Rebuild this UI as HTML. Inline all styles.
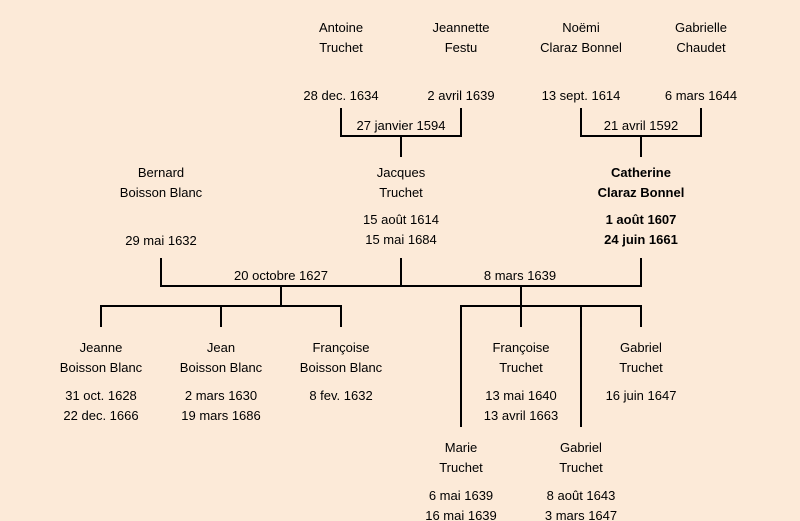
<!DOCTYPE html>
<html><head><meta charset="utf-8"><style>
body{margin:0;background:#fcead8;}
#c{position:relative;width:800px;height:521px;overflow:hidden;background:#fcead8;font-family:"Liberation Sans","DejaVu Sans",sans-serif;font-size:13px;color:#000;}
.t{position:absolute;width:200px;margin-left:-100px;margin-top:1px;text-align:center;line-height:20px;white-space:nowrap;}
.b{font-weight:bold;}
.l{position:absolute;background:#000;}
</style></head><body><div id="c">
<div class="l" style="left:340px;top:108px;width:2px;height:29px"></div>
<div class="l" style="left:460px;top:108px;width:2px;height:29px"></div>
<div class="l" style="left:340px;top:135px;width:122px;height:2px"></div>
<div class="l" style="left:400px;top:135px;width:2px;height:22px"></div>
<div class="l" style="left:580px;top:108px;width:2px;height:29px"></div>
<div class="l" style="left:700px;top:108px;width:2px;height:29px"></div>
<div class="l" style="left:580px;top:135px;width:122px;height:2px"></div>
<div class="l" style="left:640px;top:135px;width:2px;height:22px"></div>

<div class="l" style="left:160px;top:258px;width:2px;height:29px"></div>
<div class="l" style="left:400px;top:258px;width:2px;height:29px"></div>
<div class="l" style="left:640px;top:258px;width:2px;height:29px"></div>
<div class="l" style="left:160px;top:285px;width:482px;height:2px"></div>

<div class="l" style="left:280px;top:285px;width:2px;height:22px"></div>
<div class="l" style="left:100px;top:305px;width:242px;height:2px"></div>
<div class="l" style="left:100px;top:305px;width:2px;height:22px"></div>
<div class="l" style="left:220px;top:305px;width:2px;height:22px"></div>
<div class="l" style="left:340px;top:305px;width:2px;height:22px"></div>

<div class="l" style="left:520px;top:285px;width:2px;height:22px"></div>
<div class="l" style="left:460px;top:305px;width:182px;height:2px"></div>
<div class="l" style="left:520px;top:305px;width:2px;height:22px"></div>
<div class="l" style="left:640px;top:305px;width:2px;height:22px"></div>
<div class="l" style="left:460px;top:305px;width:2px;height:122px"></div>
<div class="l" style="left:580px;top:305px;width:2px;height:122px"></div>

<div class="t" style="left:341px;top:17px">Antoine<br>Truchet</div>
<div class="t" style="left:341px;top:85px">28 dec. 1634</div>
<div class="t" style="left:461px;top:17px">Jeannette<br>Festu</div>
<div class="t" style="left:461px;top:85px">2 avril 1639</div>
<div class="t" style="left:581px;top:17px">Noëmi<br>Claraz Bonnel</div>
<div class="t" style="left:581px;top:85px">13 sept. 1614</div>
<div class="t" style="left:701px;top:17px">Gabrielle<br>Chaudet</div>
<div class="t" style="left:701px;top:85px">6 mars 1644</div>
<div class="t" style="left:401px;top:115px">27 janvier 1594</div>
<div class="t" style="left:641px;top:115px">21 avril 1592</div>

<div class="t" style="left:161px;top:162px">Bernard<br>Boisson Blanc</div>
<div class="t" style="left:161px;top:230px">29 mai 1632</div>
<div class="t" style="left:401px;top:162px">Jacques<br>Truchet</div>
<div class="t" style="left:401px;top:209px">15 août 1614<br>15 mai 1684</div>
<div class="t b" style="left:641px;top:162px">Catherine<br>Claraz Bonnel</div>
<div class="t b" style="left:641px;top:209px">1 août 1607<br>24 juin 1661</div>
<div class="t" style="left:281px;top:265px">20 octobre 1627</div>
<div class="t" style="left:520px;top:265px">8 mars 1639</div>

<div class="t" style="left:101px;top:337px">Jeanne<br>Boisson Blanc</div>
<div class="t" style="left:101px;top:385px">31 oct. 1628<br>22 dec. 1666</div>
<div class="t" style="left:221px;top:337px">Jean<br>Boisson Blanc</div>
<div class="t" style="left:221px;top:385px">2 mars 1630<br>19 mars 1686</div>
<div class="t" style="left:341px;top:337px">Françoise<br>Boisson Blanc</div>
<div class="t" style="left:341px;top:385px">8 fev. 1632</div>
<div class="t" style="left:521px;top:337px">Françoise<br>Truchet</div>
<div class="t" style="left:521px;top:385px">13 mai 1640<br>13 avril 1663</div>
<div class="t" style="left:641px;top:337px">Gabriel<br>Truchet</div>
<div class="t" style="left:641px;top:385px">16 juin 1647</div>
<div class="t" style="left:461px;top:437px">Marie<br>Truchet</div>
<div class="t" style="left:461px;top:485px">6 mai 1639<br>16 mai 1639</div>
<div class="t" style="left:581px;top:437px">Gabriel<br>Truchet</div>
<div class="t" style="left:581px;top:485px">8 août 1643<br>3 mars 1647</div>
</div></body></html>
